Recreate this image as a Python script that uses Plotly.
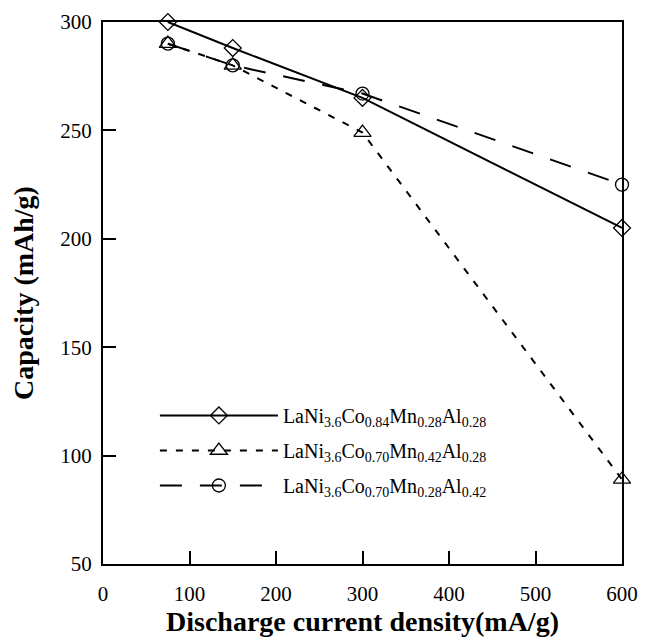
import plotly.graph_objects as go

x_vals = [75, 150, 300, 600]
cap_a = [300, 288, 265, 205]
cap_b = [290, 280, 249, 89]
cap_c = [290, 280, 267, 225]

x_ticks = [0, 100, 200, 300, 400, 500, 600]
y_ticks = [50, 100, 150, 200, 250, 300]

names = [
    "LaNi<sub>3.6</sub>Co<sub>0.84</sub>Mn<sub>0.28</sub>Al<sub>0.28</sub>",
    "LaNi<sub>3.6</sub>Co<sub>0.70</sub>Mn<sub>0.42</sub>Al<sub>0.28</sub>",
    "LaNi<sub>3.6</sub>Co<sub>0.70</sub>Mn<sub>0.28</sub>Al<sub>0.42</sub>",
]
symbols = ["diamond-open", "triangle-up-open", "circle-open"]
sizes = [13, 15, 13]
dashes = ["solid", "7px,9px", "22px,18px"]
series = [cap_a, cap_b, cap_c]

fig = go.Figure()
for i, (ys, nm, sym, sz, ds) in enumerate(zip(series, names, symbols, sizes, dashes)):
    fig.add_trace(go.Scatter(
        x=x_vals, y=ys, name=nm, mode="lines+markers", legendgroup=f"g{i}",
        line=dict(color="black", width=2, dash=ds),
        marker=dict(symbol=sym, size=sz, color="black", line=dict(width=1.3, color="black")),
        cliponaxis=False,
    ))

font_family = "Liberation Serif"
fig.update_layout(
    width=664, height=638,
    margin=dict(l=103, r=42, t=22, b=74, autoexpand=False),
    paper_bgcolor="white", plot_bgcolor="white",
    font=dict(family=font_family, color="black", size=20),
    legend=dict(x=0.1, y=0.31, xanchor="left", yanchor="top",
                bgcolor="rgba(0,0,0,0)", font=dict(size=20, family=font_family),
                itemwidth=118, tracegroupgap=6),
    showlegend=True,
)
fig.update_xaxes(
    range=[0, 600], tickvals=x_ticks,
    ticks="inside", ticklen=13, tickwidth=2, tickcolor="black",
    showline=True, linecolor="black", linewidth=2, mirror=True,
    showgrid=False, zeroline=False, ticklabelstandoff=10, automargin=False,
    tickfont=dict(size=21, family=font_family),
    title=dict(text="<b>Discharge current density(mA/g)</b>", font=dict(size=28, family=font_family), standoff=6),
)
fig.update_yaxes(
    range=[50, 300], tickvals=y_ticks,
    ticks="inside", ticklen=13, tickwidth=2, tickcolor="black",
    showline=True, linecolor="black", linewidth=2, mirror=True,
    showgrid=False, zeroline=False, ticklabelstandoff=5, automargin=False,
    tickfont=dict(size=21, family=font_family),
    title=dict(text="<b>Capacity (mAh/g)</b>", font=dict(size=28, family=font_family), standoff=18),
)
fig.write_html("out.html")
